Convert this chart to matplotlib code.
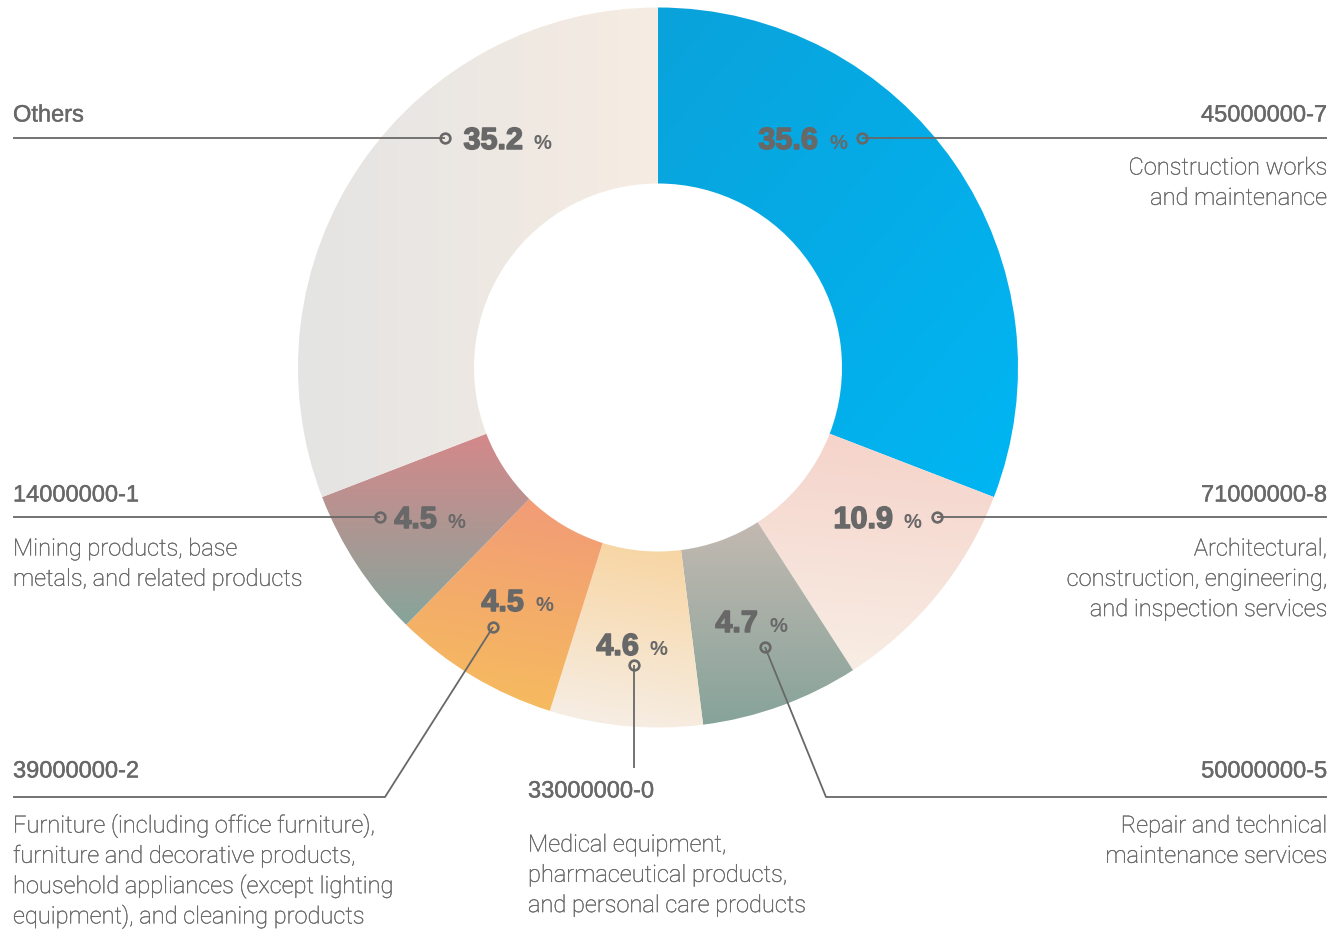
import numpy as np
import matplotlib
matplotlib.use("Agg")
import matplotlib.pyplot as plt
import matplotlib.patheffects as pe
from matplotlib.colors import to_rgb

# data, clockwise from 12 o'clock
codes = ["45000000-7", "71000000-8", "50000000-5", "33000000-0",
         "39000000-2", "14000000-1", "Others"]
descs = [["Construction works", "and maintenance"],
         ["Architectural,", "construction, engineering,", "and inspection services"],
         ["Repair and technical", "maintenance services"],
         ["Medical equipment,", "pharmaceutical products,", "and personal care products"],
         ["Furniture (including office furniture),", "furniture and decorative products,",
          "household appliances (except lighting", "equipment), and cleaning products"],
         ["Mining products, base", "metals, and related products"],
         []]
pct = [35.6, 10.9, 4.7, 4.6, 4.5, 4.5, 35.2]
# angular share of each ring segment as drawn in the picture (%)
arc_share = [30.86, 10.03, 7.11, 6.86, 7.47, 6.81, 30.86]

# gradient start/end colours and direction (deg) per segment
c_start = ["#0AA2DB", "#F5D2C9", "#C3B9B1", "#F8D49F", "#F29A78", "#D5888A", "#E4E4E4"]
c_end = ["#00B6F3", "#F8EEE5", "#86A39A", "#F6EFE8", "#F6BE5C", "#86A59B", "#F6ECE2"]
g_dir = [-40, -95, -90, -100, -100, -90, 0]

H = 930
TXT = "#686868"
TXT2 = "#666666"

fig = plt.figure(figsize=(13.34, 9.30), dpi=100)
ax = fig.add_axes([0, 0, 1, 1])

wedges, _ = ax.pie(arc_share, startangle=90, counterclock=False, radius=360,
                   center=(658, H - 367.5), frame=True,
                   wedgeprops=dict(width=176, linewidth=0))


def grad_fill(w, c0, c1, ang):
    x0, y0, x1, y1 = w.get_path().get_extents().extents
    n = 300
    X, Y = np.meshgrid(np.linspace(x0, x1, n), np.linspace(y0, y1, n))
    dx, dy = np.cos(np.radians(ang)), np.sin(np.radians(ang))
    t = X * dx + Y * dy
    t = (t - t.min()) / (t.max() - t.min())
    a, b = np.array(to_rgb(c0)), np.array(to_rgb(c1))
    img = a * (1 - t[..., None]) + b * t[..., None]
    im = ax.imshow(img, extent=(x0, x1, y0, y1), origin="lower",
                   interpolation="bilinear", aspect="auto", zorder=1)
    im.set_clip_path(w)
    w.set_facecolor("none")


for w, c0, c1, g in zip(wedges, c_start, c_end, g_dir):
    grad_fill(w, c0, c1, g)

# layout (image pixel coords, y down)
code_xy = [(1327, 113, "right"), (1327, 493, "right"), (1327, 769, "right"),
           (528, 789, "left"), (13, 769, "left"), (13, 493, "left"), (13, 113, "left")]
desc_y0 = [166, 547, 824, 843, 824, 547, 0]
leaders = [[(862, 138), (1327, 138)],
           [(937, 517), (1327, 517)],
           [(765, 647), (826, 797), (1327, 797)],
           [(634, 665), (634, 768)],
           [(493, 627), (385, 797), (13, 797)],
           [(380, 517), (13, 517)],
           [(445, 138), (13, 138)]]
num_xy = [(818, 138), (893, 517), (758, 621), (639, 644), (524, 600), (437, 517), (523, 138)]

bold_fx = [pe.withStroke(linewidth=1.1, foreground=TXT)]

for i in range(len(codes)):
    x, y, ha = code_xy[i]
    ax.text(x, H - (y + 8.5), codes[i], ha=ha, va="baseline", fontsize=17,
            family="Liberation Sans", color=TXT,
            path_effects=[pe.withStroke(linewidth=0.3, foreground=TXT)])
    for j, line in enumerate(descs[i]):
        yy = desc_y0[i] + j * 30.3
        ax.text(x, H - (yy + 8.5), line, ha=ha, va="baseline", fontsize=17,
                family="Roboto", fontweight="light", color=TXT2,
                path_effects=[pe.withStroke(linewidth=0.25, foreground=TXT2)])
    pts = np.array(leaders[i], dtype=float)
    ax.plot(pts[:, 0], H - pts[:, 1], color=TXT, lw=1.3, zorder=3,
            solid_capstyle="butt")
    ax.plot(pts[0, 0], H - pts[0, 1], marker="o", ms=7, mfc="none", mec=TXT,
            mew=1.9, zorder=4)
    nx, ny = num_xy[i]
    ax.text(nx, H - (ny + 11), f"{pct[i]:.1f}", ha="right", va="baseline",
            fontsize=22, fontweight="bold", family="Liberation Sans", color=TXT,
            zorder=5, path_effects=bold_fx)
    ax.text(nx + 11, H - (ny + 11), "%", ha="left", va="baseline",
            fontsize=14.5, fontweight="bold", family="Liberation Sans", color=TXT,
            zorder=5)

ax.set_xlim(0, 1334)
ax.set_ylim(0, H)
ax.set_aspect("auto")
ax.axis("off")

fig.savefig("out.png", dpi=100, facecolor="white")
